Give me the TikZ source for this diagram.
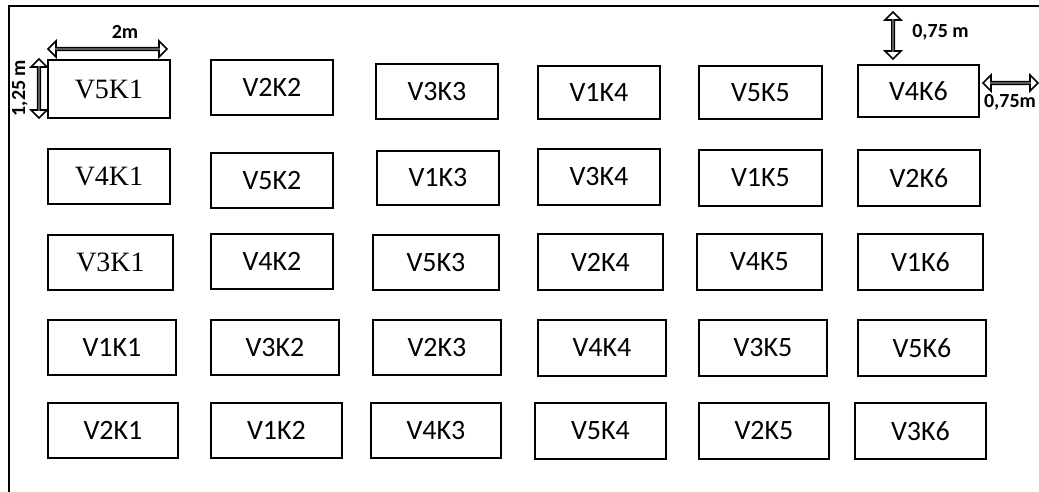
\documentclass[tikz,border=0pt]{standalone}
\usepackage{fontspec}
\setmainfont{Carlito}
\newfontfamily\serifface{Liberation Serif}
\usetikzlibrary{shapes.arrows}
\tikzset{
  box/.style={draw, line width=2.4pt, inner sep=0pt, rectangle,
    font=\fontsize{28}{30}\selectfont},
  serifbox/.style={box, font=\serifface\fontsize{28}{30}\selectfont},
  dimarrow/.style={double arrow, draw, line width=1.6pt, inner sep=0pt,
    minimum width=16pt, double arrow head extend=4.5pt, fill=white},
  dimlabel/.style={inner sep=0pt, font=\bfseries\fontsize{20}{22}\selectfont},
  frame/.style={line width=2.6pt}
}
\newcommand\plotbox[7][box]{%
  \node[#1, minimum width={(#5-#3)*1pt}, minimum height={(#6-#4)*1pt}]
    (#2) at ({(#3+#5)/2},{(#4+#6)/2}) {#7};}
\begin{document}
\begin{tikzpicture}[x=1pt,y=-1pt]
\useasboundingbox (0,0) rectangle (1039,492);
\fill[white] (0,0) rectangle (1039,492);
\draw[frame] (9,492) -- (9,6) -- (1039,6);
% row 1
\plotbox[serifbox]{V5K1}{48}{60}{170}{118}{V5K1}
\plotbox{V2K2}{211}{60}{333}{115}{V2K2}
\plotbox{V3K3}{376}{64}{498}{119}{V3K3}
\plotbox{V1K4}{538}{66}{660}{119}{V1K4}
\plotbox{V5K5}{699}{66}{822}{119}{V5K5}
\plotbox{V4K6}{858}{65}{979}{117}{V4K6}
% row 2
\plotbox[serifbox]{V4K1}{48}{149}{170}{204}{V4K1}
\plotbox{V5K2}{211}{153}{333}{208}{V5K2}
\plotbox{V1K3}{377}{151}{499}{205}{V1K3}
\plotbox{V3K4}{538}{149}{660}{205}{V3K4}
\plotbox{V1K5}{699}{150}{822}{206}{V1K5}
\plotbox{V2K6}{858}{150}{980}{206}{V2K6}
% row 3
\plotbox[serifbox]{V3K1}{48}{235}{173}{290}{V3K1}
\plotbox{V4K2}{211}{234}{333}{289}{V4K2}
\plotbox{V5K3}{373}{235}{499}{290}{V5K3}
\plotbox{V2K4}{538}{234}{663}{290}{V2K4}
\plotbox{V4K5}{697}{234}{822}{290}{V4K5}
\plotbox{V1K6}{858}{234}{983}{290}{V1K6}
% row 4
\plotbox{V1K1}{48}{320}{176}{375}{V1K1}
\plotbox{V3K2}{211}{320}{339}{375}{V3K2}
\plotbox{V2K3}{373}{320}{501}{375}{V2K3}
\plotbox{V4K4}{538}{320}{666}{376}{V4K4}
\plotbox{V3K5}{699}{320}{827}{376}{V3K5}
\plotbox{V5K6}{858}{320}{986}{376}{V5K6}
% row 5
\plotbox{V2K1}{48}{403}{178}{458}{V2K1}
\plotbox{V1K2}{211}{403}{342}{458}{V1K2}
\plotbox{V4K3}{371}{403}{501}{458}{V4K3}
\plotbox{V5K4}{535}{403}{666}{459}{V5K4}
\plotbox{V2K5}{699}{403}{829}{459}{V2K5}
\plotbox{V3K6}{855}{403}{986}{459}{V3K6}
% dimension arrows
\node[dimarrow, minimum height=119pt] (a2m) at (107.5,49) {};
\node[dimarrow, minimum height=59pt, rotate=90] (a125) at (39,88.5) {};
\node[dimarrow, minimum height=47pt, rotate=90] (a075t) at (893,35.5) {};
\node[dimarrow, minimum height=55pt] (a075r) at (1010.5,83) {};
% dimension labels
\node[dimlabel] (l2m) at (125,32) {2m};
\node[dimlabel, rotate=90] (l125) at (20,88) {1,25 m};
\node[dimlabel] (l075t) at (940.5,32) {0,75 m};
\node[dimlabel] (l075r) at (1010,102) {0,75m};
\end{tikzpicture}
\end{document}
